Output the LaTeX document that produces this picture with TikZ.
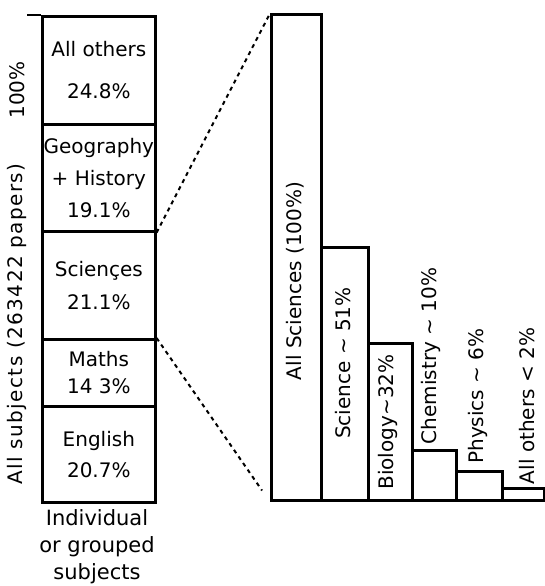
\documentclass[tikz,border=0pt]{standalone}
\usepackage{fontspec}
\setmainfont{DejaVu Sans}
\newcommand{\apx}{\textasciitilde}
\begin{document}
\begin{tikzpicture}[x=1pt,y=-1pt,
  seg/.style={draw,line width=2.6pt,anchor=north west,inner sep=0pt,align=center,
    minimum width=113pt,font=\fontsize{20}{23}\selectfont},
  bar/.style={draw,line width=2.6pt,anchor=south west,inner sep=0pt},
  lab/.style={rotate=90,inner sep=0pt,font=\fontsize{20}{23}\selectfont},
  link/.style={line width=2pt,dash pattern=on 4pt off 4pt}]
\useasboundingbox (0,0) rectangle (544,586);
% left stacked column
\node[seg,minimum height=108pt] (others) at (41,15) {All others\\[19pt]24.8\%};
\node[seg,minimum height=107pt] (geo) at (41,123) {Geography\\[9pt]+ History\\[9pt]19.1\%};
\node[seg,minimum height=108pt] (sci) at (41,230) {Sciençes\\[10pt]21.1\%};
\node[seg,minimum height=67pt] (maths) at (41,338) {Maths\\[4pt]14 3\%};
\node[seg,minimum height=96pt] (eng) at (41,405) {English\\[8pt]20.7\%};
\coordinate (topleft) at (27,15);
\draw[line width=2.6pt] (topleft) -- (others.north west);
\node[lab] (t100) at (17,90) {100\%};
\node[lab,font=\fontsize{20}{23}\selectfont\addfontfeatures{LetterSpace=7}] (tall) at (17,324) {All subjects (263422 papers)};
\node[align=center,inner sep=0pt,font=\fontsize{21}{27}\selectfont] (indiv) at (97,547) {Individual\\or grouped\\subjects};
% right bars
\node[bar,minimum width=50pt,minimum height=486pt] (b1) at (270,502) {};
\node[bar,minimum width=47pt,minimum height=253pt] (b2) at (320,502) {};
\node[bar,minimum width=44pt,minimum height=157pt] (b3) at (367,502) {};
\node[bar,minimum width=44pt,minimum height=50pt] (b4) at (411,502) {};
\node[bar,minimum width=46pt,minimum height=29pt] (b5) at (455,502) {};
\node[bar,minimum width=42pt,minimum height=12pt] (b6) at (501,502) {};
\node[lab] (l1) at (295,281) {All Sciences (100\%)};
\node[lab] (l2) at (343,363) {Science \apx\ 51\%};
\node[lab] (l3) at (388,422) {Biology\apx 32\%};
\node[lab] (l4) at (431,356) {Chemistry \apx\ 10\%};
\node[lab] (l5) at (478,396) {Physics \apx\ 6\%};
\node[lab] (l6) at (527,406) {All others < 2\%};
% connectors
\draw[link] (geo.south east) -- (b1.north west);
\draw[link,shorten >=14pt] (maths.north east) -- (b1.south west);
\end{tikzpicture}
\end{document}
